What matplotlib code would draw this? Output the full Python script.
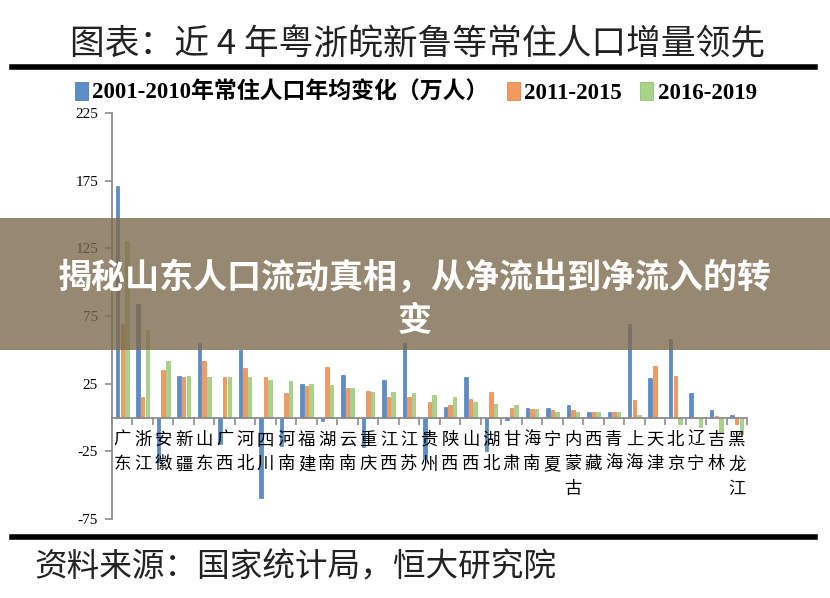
import numpy as np
import matplotlib
matplotlib.use("Agg")
import matplotlib.pyplot as plt
from matplotlib.patches import Rectangle
from matplotlib.lines import Line2D

plt.rcParams['font.family'] = ['Liberation Serif', 'Noto Sans CJK SC', 'DejaVu Sans']

provinces = ['广东', '浙江', '安徽', '新疆', '山东', '广西', '河北', '四川', '河南', '福建',
             '湖南', '云南', '重庆', '江西', '江苏', '贵州', '陕西', '山西', '湖北', '甘肃',
             '海南', '宁夏', '内蒙古', '西藏', '青海', '上海', '天津', '北京', '辽宁', '吉林', '黑龙江']
v2001_2010 = [171, 83.5, -33, 31, 55, -19.5, 50, -59.5, -20.7, 25, -2.5, 31.4, -21.5, 27.4, 55,
              -30.6, 7.4, 29.9, -25, -1.5, 7.2, 6.7, 9.4, 3.7, 3.7, 69, 29, 57.8, 17.8, 5.4, 2]
v2011_2015 = [69, 14.8, 35, 30, 42, 30, 36.5, 30, 18, 23.5, 37, 22, 19.3, 15, 15, 11.8, 9.6, 13.8,
              18.5, 6.7, 6.4, 5.2, 5.4, 3.7, 3.7, 13.3, 38, 30.4, 0.3, 0.8, -4.7]
v2016_2019 = [130.6, 65, 42, 31, 30, 30, 30, 28, 26.7, 24.4, 23.7, 21.5, 19, 18.5, 17.8, 16.5, 15.5,
              11.6, 10, 9, 6.4, 4.4, 4.4, 4.4, 3.7, 2, -0.3, -4.7, -6.7, -10.6, -12]
series_names = ['2001-2010年常住人口年均变化（万人）', '2011-2015', '2016-2019']
yticks = [-75, -25, 25, 75, 125, 175, 225]

colors = ['#5B8DC9', '#F39A5E', '#A8D48A']
edge = ['#3F6FA8', '#D9783A', '#86B865']

fig = plt.figure(figsize=(8.3, 5.98), dpi=100)
ax = fig.add_axes([112 / 830, 79 / 598, 635 / 830, 406 / 598])

x = np.arange(len(provinces))
off = 0.225
w = 0.17
for i, vals in enumerate([v2001_2010, v2011_2015, v2016_2019]):
    ax.bar(x + (i - 1) * off, vals, width=w, color=colors[i], edgecolor=edge[i], linewidth=0.4, zorder=2)

ax.set_xlim(-0.5, len(provinces) - 0.5)
ax.set_ylim(-75, 225)
ax.set_yticks(yticks)
ax.set_yticklabels([str(t) for t in yticks], fontsize=11, family='Liberation Serif')
ax.set_xticks(np.arange(len(provinces) + 1) - 0.5)
ax.set_xticklabels([])
ax.spines['top'].set_visible(False)
ax.spines['right'].set_visible(False)
ax.spines['bottom'].set_position(('data', 0))
for s in ['left', 'bottom']:
    ax.spines[s].set_color('#8C8C8C')
    ax.spines[s].set_linewidth(1.3)
ax.tick_params(axis='y', direction='out', length=5, color='#8C8C8C', width=1.2, pad=5)
ax.tick_params(axis='x', direction='out', length=5, color='#8C8C8C', width=1.2)

for xi, name in zip(x, provinces):
    ax.text(xi, -10, '\n'.join(name), ha='center', va='top', fontsize=12.5,
            family='Noto Sans CJK SC', linespacing=1.45, zorder=3)

# title and rules
fig.text(0.084, 1 - 45 / 598, '图表：近 4 年粤浙皖新鲁等常住人口增量领先', fontsize=25,
         family='Noto Sans CJK SC', va='center', ha='left', color='#222222')
fig.add_artist(Line2D([12 / 830, 815 / 830], [1 - 67 / 598] * 2, color='black', lw=4))
fig.add_artist(Line2D([12 / 830, 815 / 830], [1 - 537 / 598] * 2, color='black', lw=4))

# legend
handles = [Rectangle((0, 0), 1, 1, facecolor=c, edgecolor=e, lw=0.5) for c, e in zip(colors, edge)]
fig.legend(handles, series_names, loc='center', bbox_to_anchor=(416 / 830, 1 - 93 / 598), ncol=3,
           frameon=False, handlelength=0.55, handleheight=0.85, handletextpad=0.2, columnspacing=0.8,
           prop={'weight': 'bold', 'size': 16.5})

# source
fig.text(0.042, 1 - 568 / 598, '资料来源：国家统计局，恒大研究院', fontsize=23.5, style='italic',
         family='Noto Sans CJK SC', va='center', ha='left', color='#222222')

# overlay banner
fig.add_artist(Rectangle((0, 1 - 350 / 598), 1, 132 / 598, transform=fig.transFigure,
                         facecolor='#7D6B4D', alpha=0.8, edgecolor='none', zorder=10))
fig.text(0.5, 1 - 299 / 598, '揭秘山东人口流动真相，从净流出到净流入的转\n变', fontsize=24.5,
         weight='bold', family='Noto Sans CJK SC', color='white', ha='center', va='center',
         linespacing=1.3, zorder=11)

fig.savefig('out.png', dpi=100)
